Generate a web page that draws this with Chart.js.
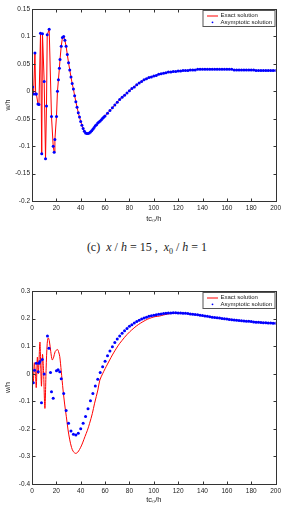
<!DOCTYPE html>
<html>
<head>
<meta charset="utf-8">
<script src="https://cdn.jsdelivr.net/npm/chart.js@4.4.0/dist/chart.umd.min.js"></script>
<style>
body { margin: 0; background: #fff; width: 284px; height: 526px; position: relative; overflow: hidden; }
canvas { position: absolute; left: 0; }
#c1 { top: 0; }
#c2 { top: 282px; }
.cap { position: absolute; top: 240px; left: 0; width: 294px; text-align: center;
       font: 12px "Liberation Serif", serif; color: #222; }
.cap sub { font-size: 8px; }
</style>
</head>
<body>
<canvas id="c1" width="284" height="226"></canvas>
<div class="cap">(c)&nbsp; <i>x</i> / <i>h</i> = 15 ,&nbsp; <i>x</i><sub>0</sub> / <i>h</i> = 1</div>
<canvas id="c2" width="284" height="228"></canvas>
<script>
/*---------------------------- data ------------------------------------*/

var xTicks = [0, 20, 40, 60, 80, 100, 120, 140, 160, 180, 200];
var yTicksTop = [-0.2, -0.15, -0.1, -0.05, 0, 0.05, 0.1, 0.15];
var yTicksBottom = [-0.4, -0.3, -0.2, -0.1, 0, 0.1, 0.2, 0.3];

// upper plot: exact and asymptotic curves lie on top of each other
var tTop = [0.5, 1.3, 2.4, 3.0, 3.6, 4.9, 5.7, 7.0, 8.0, 8.6, 10.0, 11.1, 11.9, 12.5, 14.1,
  16.0, 17.4, 18.2, 18.8, 20.1, 20.9, 21.7, 22.5, 23, 24, 25, 26, 27, 28, 29, 30,
  31, 32, 33, 34, 35, 36, 37, 38, 39, 40, 41, 42, 43, 44, 45, 46, 47, 48, 49, 50,
  51, 52, 53, 54, 55, 56, 57, 58, 59, 60,
  62, 64, 66, 68, 70, 72, 74, 76, 78, 80, 82, 84, 86, 88, 90, 92, 94, 96, 98, 100,
  102, 104, 106, 108, 110, 112, 114, 116, 118, 120, 122, 124, 126, 128, 130,
  132, 134, 136, 138, 140, 142, 144, 146, 148, 150, 152, 154, 156, 158, 160,
  162, 164, 166, 168, 170, 172, 174, 176, 178, 180, 182, 184, 186, 188, 190,
  192, 194, 196, 198, 200];
var wTop = [0.008, -0.005, 0.070, -0.005, -0.005, -0.023, -0.024, 0.106, -0.114, 0.105,
  0.018, -0.123, -0.027, 0.103, 0.113,
  -0.046, -0.100, -0.111, -0.088, -0.046, 0.000, 0.021, 0.042, 0.058, 0.082, 0.098, 0.100,
  0.093, 0.082, 0.067, 0.052,
  0.039, 0.026, 0.014, 0.004, -0.008, -0.019, -0.029, -0.039, -0.047, -0.055,
  -0.062, -0.068, -0.073, -0.076, -0.077, -0.077, -0.076, -0.074, -0.072, -0.069,
  -0.066, -0.063, -0.061, -0.058, -0.056, -0.054, -0.052, -0.049, -0.047, -0.045,
  -0.040, -0.035, -0.030, -0.025, -0.020, -0.015, -0.011, -0.007, -0.003, 0.001,
  0.005, 0.008, 0.012, 0.015, 0.018, 0.021, 0.023, 0.025, 0.026, 0.028,
  0.029, 0.031, 0.032, 0.033, 0.034, 0.035, 0.035, 0.036, 0.036, 0.037,
  0.037, 0.038, 0.038, 0.038, 0.039,
  0.039, 0.039, 0.040, 0.040, 0.040, 0.040, 0.040, 0.040, 0.040, 0.040,
  0.040, 0.040, 0.040, 0.040, 0.040,
  0.040, 0.040, 0.039, 0.039, 0.039, 0.039, 0.039, 0.039, 0.039, 0.039,
  0.039, 0.038, 0.038, 0.038, 0.038,
  0.038, 0.038, 0.038, 0.038, 0.038];

// lower plot: exact solution (red line)
var tExact = [0.5, 1.1, 1.9, 2.8, 3.5, 4.4, 5.2, 6.5, 7.2, 7.8, 8.6, 9.4, 10.6, 11.6,
  12.5, 13.3, 14.2, 15.4, 16.6, 17.8, 19.0, 20.9, 21.8, 22.8, 24.0, 25.5, 26.8, 28.2,
  29.6, 31.0, 32.5, 34.0, 35.9, 37.5, 39.0, 40.5, 41.8, 43.5, 45.5, 47.3, 49.5, 51.4,
  54.1, 55.7, 58, 60, 62, 63.8, 66, 68, 70, 72, 74, 76, 78, 80.2, 83, 86, 89, 92, 95,
  98, 101, 104.6, 108, 112, 116, 120, 125, 130, 135, 140, 145, 150, 155, 160, 165,
  170, 175, 180, 185, 190, 195, 200];
var wExact = [0.010, -0.030, 0.040, 0.000, -0.050, 0.060, 0.000, 0.115, 0.020, -0.045,
  0.070, 0.020, -0.126, 0.020,
  0.110, 0.130, 0.120, 0.080, 0.050, 0.060, 0.080, 0.088, 0.080, 0.062, 0.010, -0.059,
  -0.110, -0.156,
  -0.204, -0.240, -0.268, -0.283, -0.289, -0.285, -0.275, -0.262, -0.248, -0.228,
  -0.205, -0.180, -0.145, -0.107,
  -0.059, -0.023, 0.000, 0.018, 0.035, 0.050, 0.068, 0.083, 0.097, 0.110, 0.121, 0.132,
  0.142, 0.152, 0.163, 0.174, 0.183, 0.191, 0.198,
  0.203, 0.207, 0.209, 0.213, 0.217, 0.219, 0.220, 0.219, 0.217, 0.214, 0.210, 0.207,
  0.204, 0.201, 0.199, 0.196,
  0.193, 0.191, 0.189, 0.187, 0.186, 0.184, 0.183];

// lower plot: asymptotic solution (blue dots)
var tAsym = [1.1, 2.1, 3.5, 5.1, 5.7, 6.5, 7.8, 8.4, 10.0, 12.7, 13.9, 15.2, 16.0, 17.4,
  20.1, 21.4, 22.8,
  24, 26, 28, 30, 32, 34, 36, 38, 40, 42, 44, 46, 48, 50, 52, 54, 56, 58, 60,
  62, 64, 66, 68, 70, 72, 74, 76, 78, 80, 82, 84, 86, 88, 90, 92, 94, 96, 98, 100,
  102, 104, 106, 108, 110, 112, 114, 116, 118, 120, 122, 124, 126, 128, 130,
  132, 134, 136, 138, 140, 142, 144, 146, 148, 150, 152, 154, 156, 158, 160,
  162, 164, 166, 168, 170, 172, 174, 176, 178, 180, 182, 184, 186, 188, 190,
  192, 194, 196, 198, 200];
var wAsym = [-0.033, 0.013, 0.038, 0.007, 0.038, 0.044, -0.105, 0.052, -0.001, 0.137,
  0.092, 0.004, -0.065, -0.089,
  0.011, 0.014, 0.007,
  -0.018, -0.072, -0.133, -0.180, -0.208, -0.220, -0.222, -0.216, -0.200, -0.180,
  -0.155, -0.127, -0.098, -0.072, -0.045, -0.020, 0.004, 0.025, 0.045,
  0.065, 0.082, 0.098, 0.113, 0.126, 0.137, 0.147, 0.156, 0.164, 0.172, 0.178, 0.184,
  0.189, 0.194, 0.198, 0.202, 0.205, 0.208, 0.210, 0.212,
  0.214, 0.216, 0.217, 0.218, 0.219, 0.220, 0.220, 0.221, 0.221, 0.220, 0.220, 0.219,
  0.219, 0.218, 0.217,
  0.216, 0.215, 0.214, 0.212, 0.211, 0.209, 0.208, 0.207, 0.205, 0.204, 0.203, 0.202,
  0.200, 0.199, 0.198,
  0.197, 0.196, 0.195, 0.194, 0.193, 0.192, 0.191, 0.190, 0.190, 0.189, 0.188, 0.187,
  0.187, 0.186, 0.185,
  0.185, 0.184, 0.184, 0.183, 0.183];

/*---------------------------- helpers ------------------------------------*/

function pts(ts, ws) {
  return ts.map(function (t, i) { return { x: t, y: ws[i] }; });
}

function fmt(v) {
  return String(Math.round(v * 100) / 100);
}

// MATLAB style box, inward ticks and legend
var frame = {
  id: 'frame',
  afterDraw: function (chart) {
    var ctx = chart.ctx, a = chart.chartArea;
    var x = chart.scales.x, y = chart.scales.y;
    var L = Math.round(a.left) + 0.5, R = Math.round(a.right) + 0.5;
    var T = Math.round(a.top) + 0.5, B = Math.round(a.bottom) + 0.5;
    ctx.save();
    ctx.strokeStyle = '#333';
    ctx.lineWidth = 1;
    ctx.strokeRect(L, T, R - L, B - T);
    ctx.beginPath();
    x.ticks.forEach(function (t) {
      var p = Math.round(x.getPixelForValue(t.value)) + 0.5;
      ctx.moveTo(p, B); ctx.lineTo(p, B - 3);
      ctx.moveTo(p, T); ctx.lineTo(p, T + 3);
    });
    y.ticks.forEach(function (t) {
      var p = Math.round(y.getPixelForValue(t.value)) + 0.5;
      ctx.moveTo(L, p); ctx.lineTo(L + 3, p);
      ctx.moveTo(R, p); ctx.lineTo(R - 3, p);
    });
    ctx.stroke();

    // legend box
    var bx = R - 73.5, by = T + 1, bw = 72, bh = 16;
    ctx.fillStyle = '#fff';
    ctx.fillRect(bx, by, bw, bh);
    ctx.strokeStyle = '#555';
    ctx.strokeRect(bx, by, bw, bh);
    ctx.strokeStyle = '#ff0000';
    ctx.beginPath();
    ctx.moveTo(bx + 4, by + 5.5); ctx.lineTo(bx + 15, by + 5.5);
    ctx.stroke();
    ctx.fillStyle = '#0000ff';
    ctx.beginPath();
    ctx.arc(bx + 9.5, by + 11.8, 0.9, 0, Math.PI * 2);
    ctx.fill();
    ctx.fillStyle = '#222';
    ctx.font = '6px "Liberation Sans", Arial, sans-serif';
    ctx.textBaseline = 'middle';
    ctx.fillText('Exact solution', bx + 17.5, by + 5.2);
    ctx.fillText('Asymptotic solution', bx + 17.5, by + 11.6);
    ctx.restore();
  }
};

function makeChart(id, datasets, yTicks, axisH, titlePad) {
  new Chart(id, {
    type: 'scatter',
    data: { datasets: datasets },
    options: {
      responsive: false,
      animation: false,
      devicePixelRatio: 1,
      layout: { padding: { left: 0, right: 7, top: 9, bottom: 0 } },
      plugins: { legend: { display: false }, tooltip: { enabled: false } },
      scales: {
        x: {
          type: 'linear', min: 0, max: 200,
          grid: { display: false, drawTicks: false },
          border: { display: false },
          afterBuildTicks: function (s) { s.ticks = xTicks.map(function (v) { return { value: v }; }); },
          afterFit: function (s) { s.height = axisH; },
          ticks: { padding: 3, color: '#222', maxRotation: 0,
                   font: { family: 'Liberation Sans', size: 6.5 } },
          title: { display: true, text: 'tc\u2080/h', color: '#222', padding: { top: 0, bottom: titlePad },
                   font: { family: 'Liberation Sans', size: 7.5 } }
        },
        y: {
          type: 'linear', min: yTicks[0], max: yTicks[yTicks.length - 1],
          grid: { display: false, drawTicks: false },
          border: { display: false },
          afterBuildTicks: function (s) { s.ticks = yTicks.map(function (v) { return { value: v }; }); },
          afterFit: function (s) { s.width = 32; },
          ticks: { padding: 2, color: '#222', callback: fmt,
                   font: { family: 'Liberation Sans', size: 6.5 } },
          title: { display: true, text: 'w/h', color: '#222', padding: { top: 4, bottom: 0 },
                   font: { family: 'Liberation Sans', size: 7 } }
        }
      }
    },
    plugins: [frame]
  });
}

/*---------------------------- upper chart ------------------------------------*/

makeChart('c1', [
  { label: 'Asymptotic solution', data: pts(tTop, wTop), showLine: false,
    pointRadius: 1.5, pointBorderWidth: 0, pointBackgroundColor: '#0000ff' },
  { label: 'Exact solution', data: pts(tTop, wTop), showLine: true,
    borderColor: '#ff0000', borderWidth: 1, pointRadius: 0, tension: 0 }
], yTicksTop, 25, 2.5);

/*---------------------------- lower chart ------------------------------------*/

makeChart('c2', [
  { label: 'Asymptotic solution', data: pts(tAsym, wAsym), showLine: false,
    pointRadius: 1.5, pointBorderWidth: 0, pointBackgroundColor: '#0000ff' },
  { label: 'Exact solution', data: pts(tExact, wExact), showLine: true,
    borderColor: '#ff0000', borderWidth: 1, pointRadius: 0, tension: 0.3 }
], yTicksBottom, 26, 5.5);
</script>
</body>
</html>
